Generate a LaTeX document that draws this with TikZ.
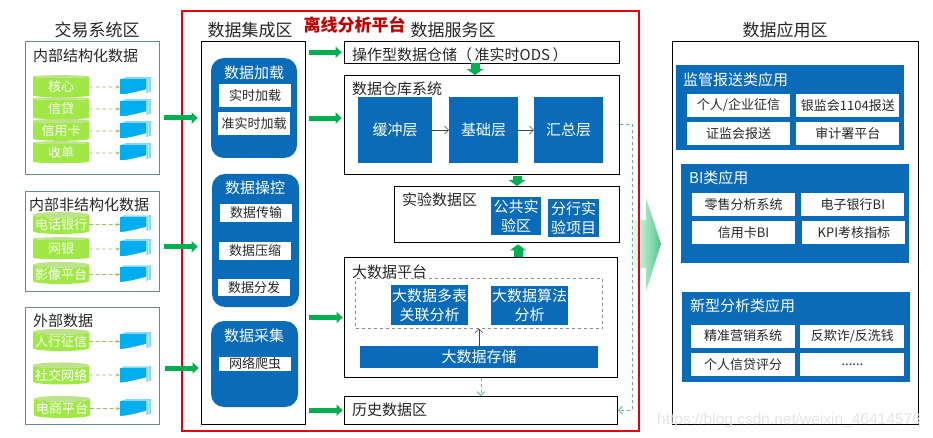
\documentclass[tikz,border=0pt]{standalone}
\usepackage{fontspec}
\setmainfont{Noto Sans CJK SC}
\newfontfamily\markfont{Liberation Sans}
\usetikzlibrary{shapes.geometric, arrows.meta, positioning}
\definecolor{bankblue}{RGB}{10,108,185}
\definecolor{docblue}{RGB}{0,174,240}
\definecolor{docpale}{RGB}{130,216,246}
\definecolor{cylgreen}{RGB}{160,232,70}
\definecolor{cyltop}{RGB}{190,226,140}
\definecolor{dkgreen}{RGB}{0,176,80}
\definecolor{dashgreen}{RGB}{155,190,95}
\definecolor{tealdash}{RGB}{95,185,150}
\definecolor{framered}{RGB}{228,0,18}
\definecolor{boxgrey}{RGB}{105,140,145}

\begin{document}
\begin{tikzpicture}[
    x=1pt, y=-1pt,
    head/.style={font=\fontsize{17}{19}\selectfont, text=black!85, inner sep=0pt},
    sect/.style={rectangle, draw=boxgrey, thick, inner sep=0pt, minimum width=134},
    frame/.style={rectangle, draw=black, thick, inner sep=0pt},
    txt/.style={font=\fontsize{15}{17}\selectfont, text=black!85, inner sep=0pt},
    cyl/.style={cylinder, shape border rotate=90, aspect=0.11, cylinder uses custom fill,
        cylinder body fill=cylgreen, cylinder end fill=cyltop, inner sep=0pt,
        minimum width=56, minimum height=22, text=white,
        font=\fontsize{13}{15}\selectfont},
    doc/.style={rectangle, minimum width=26, minimum height=15, inner sep=0pt,
        preaction={fill=docpale, transform canvas={xshift=4.5pt, yshift=2pt}},
        preaction={fill=docpale!55, transform canvas={xshift=3pt, yshift=1.5pt}},
        preaction={fill=docpale, transform canvas={xshift=1.5pt, yshift=1pt}},
        fill=docblue,
        path picture={\fill[white] (path picture bounding box.south west)
            .. controls +(10,0) and +(16,-5) .. +(26,-5) -- +(26,1) -- +(0,1) -- cycle;}},
    pnl/.style={rectangle, rounded corners=13pt, fill=bankblue, inner sep=0pt, minimum width=86},
    ptitle/.style={font=\fontsize{15}{17}\selectfont, text=white, inner sep=0pt},
    sbox/.style={rectangle, fill=white, minimum width=72, inner sep=0pt, text=black!85,
        font=\fontsize{13}{15}\selectfont},
    bluebox/.style={rectangle, fill=bankblue, inner sep=0pt, text=white, align=center,
        font=\fontsize{15}{19}\selectfont},
    panel/.style={rectangle, fill=bankblue, minimum width=228, inner sep=0pt},
    wbox/.style={rectangle, fill=white, minimum width=103, minimum height=23, inner sep=0pt,
        text=black!85, font=\fontsize{13}{15}\selectfont},
    darr/.style={-{Stealth[length=4pt]}, dashed, dash pattern=on 4pt off 2.5pt, thick, dashgreen},
    garr/.style={-{Triangle[length=6pt, width=11pt]}, line width=5pt, dkgreen},
    gdown/.style={-{Triangle[length=6pt, width=16pt]}, line width=9pt, dkgreen},
    thin arr/.style={-{Straight Barb[length=4pt]}, black!75},
    gdash/.style={-{Straight Barb[length=4pt]}, dashed, tealdash, thick}
]
\useasboundingbox (0,0) rectangle (933,438);
\fill[white] (0,0) rectangle (933,438);

% source systems
\node[head] (jiaoyi) at (97,30) {交易系统区};
\node[sect, minimum height=133] (jiegou) at (92.5,107.5) {};
\node[txt, anchor=west] (jiegou title) at (33,56) {内部结构化数据};
\node[cyl] (hexin) at (61,87) {核心};
\node[cyl] (xindai) at (61,109) {信贷};
\node[cyl] (xinyongka) at (61,131) {信用卡};
\node[cyl] (shoudan) at (61,153) {收单};
\node[doc, right=31pt of hexin] (hexin doc) {};
\node[doc, right=31pt of xindai] (xindai doc) {};
\node[doc, right=31pt of xinyongka] (xinyongka doc) {};
\node[doc, right=31pt of shoudan] (shoudan doc) {};
\draw[darr] (hexin) -- (hexin doc);
\draw[darr] (xindai) -- (xindai doc);
\draw[darr] (xinyongka) -- (xinyongka doc);
\draw[darr] (shoudan) -- (shoudan doc);

\node[sect, minimum height=100] (feijiegou) at (92.5,241) {};
\node[txt, anchor=west] (feijiegou title) at (29,205) {内部非结构化数据};
\node[cyl] (dianhua) at (61,224.5) {电话银行};
\node[cyl] (wangyin) at (61,249) {网银};
\node[cyl] (yingxiang) at (61,274.5) {影像平台};
\node[doc, right=31pt of dianhua] (dianhua doc) {};
\node[doc, right=31pt of wangyin] (wangyin doc) {};
\node[doc, right=31pt of yingxiang] (yingxiang doc) {};
\draw[darr] (dianhua) -- (dianhua doc);
\draw[darr] (wangyin) -- (wangyin doc);
\draw[darr] (yingxiang) -- (yingxiang doc);

\node[sect, minimum height=117] (waibu) at (92.5,365.5) {};
\node[txt, anchor=west] (waibu title) at (33,321) {外部数据};
\node[cyl] (renhang) at (61,341.5) {人行征信};
\node[cyl] (shejiao) at (61,375) {社交网络};
\node[cyl] (dianshang) at (62,408.5) {电商平台};
\node[doc, right=31pt of renhang] (renhang doc) {};
\node[doc, right=31pt of shejiao] (shejiao doc) {};
\node[doc, right=30pt of dianshang] (dianshang doc) {};
\draw[darr] (renhang) -- (renhang doc);
\draw[darr] (shejiao) -- (shejiao doc);
\draw[darr] (dianshang) -- (dianshang doc);

% big arrow sits behind the red frame
\shade[left color=white, right color=dkgreen!70, draw=none] (630,220) -- (646,220) -- (646,198)
    -- (661,244) -- (646,291) -- (646,268) -- (630,268) -- cycle;

% offline platform
\node[rectangle, draw=framered, line width=1.6pt, minimum width=457, minimum height=420, inner sep=0pt] (pingtai) at (410.5,221) {};
\node[font=\fontsize{17}{19}\selectfont\bfseries, text=red!75!black, inner sep=0pt] (pingtai title) at (354.5,25) {离线分析平台};
\node[head] (jicheng title) at (250,30) {数据集成区};
\node[head] (fuwu title) at (453,30) {数据服务区};

\node[frame, minimum width=104, minimum height=382.5] (jicheng) at (253.5,232.75) {};
\node[pnl, minimum height=100] (jiazai) at (254,108) {};
\node[ptitle] (jiazai title) at (254,73) {数据加载};
\node[sbox, minimum height=23] (shishi) at (255,95.5) {实时加载};
\node[sbox, minimum height=23] (zhunshi) at (254,123.5) {准实时加载};
\node[pnl, minimum width=87, minimum height=133] (caokong) at (255.5,240.5) {};
\node[ptitle] (caokong title) at (255,188) {数据操控};
\node[sbox, minimum height=18] (chuanshu) at (256,213) {数据传输};
\node[sbox, minimum height=18] (yasuo) at (255,251) {数据压缩};
\node[sbox, minimum height=17] (fenfa) at (254,287.5) {数据分发};
\node[pnl, minimum width=87, minimum height=86] (caiji) at (254.5,364) {};
\node[ptitle] (caiji title) at (254,336) {数据采集};
\node[sbox, minimum height=14] (pachong) at (255,364) {网络爬虫};

\node[frame, minimum width=275, minimum height=21.5] (ods) at (482,52.25) {};
\node[txt, anchor=west] (ods title) at (352,54.5) {操作型数据仓储（\,准实时ODS\,）};

\node[frame, minimum width=275, minimum height=98.5] (cangku) at (482,124.75) {};
\node[txt, anchor=west] (cangku title) at (352,89) {数据仓库系统};
\node[bluebox, minimum width=74, minimum height=66] (huanchong) at (395,130) {缓冲层};
\node[bluebox, minimum width=69, minimum height=66] (jichu) at (483.5,130) {基础层};
\node[bluebox, minimum width=69, minimum height=66] (huizong) at (568.5,130) {汇总层};
\draw[thin arr] (huanchong) -- (jichu);
\draw[thin arr] (jichu) -- (huizong);

\node[frame, minimum width=225, minimum height=55.5] (shiyan) at (507,214.25) {};
\node[txt, anchor=west] (shiyan title) at (402,200) {实验数据区};
\node[bluebox, minimum width=50, minimum height=38] (gonggong) at (516,216) {公共实\\验区};
\node[bluebox, minimum width=51, minimum height=38] (fenhang) at (573.5,218) {分行实\\验项目};

\node[frame, minimum width=273, minimum height=120] (dashuju) at (481,317.5) {};
\node[txt, anchor=west] (dashuju title) at (352,272) {大数据平台};
\node[rectangle, draw=black!45, dashed, minimum width=247, minimum height=50, inner sep=0pt] (fenxi) at (479,303.5) {};
\node[bluebox, minimum width=77, minimum height=40] (duobiao) at (429.5,305) {大数据多表\\关联分析};
\node[bluebox, minimum width=77, minimum height=39] (suanfa) at (529.5,305.5) {大数据算法\\分析};
\node[bluebox, minimum width=238, minimum height=22] (cunchu) at (479,357) {大数据存储};
\draw[thin arr] (cunchu) -- (fenxi);

\node[frame, minimum width=273, minimum height=27.5] (lishi) at (481,410.25) {};
\node[txt, anchor=west] (lishi title) at (352,410) {历史数据区};

% data applications
\node[head] (yingyong title) at (785,30) {数据应用区};
\node[frame, minimum width=246, minimum height=382.5] (yingyong) at (795.5,232.75) {};

\node[panel, minimum height=85] (jianguan) at (790,107.5) {};
\node[ptitle, anchor=west] (jianguan title) at (683,80) {监管报送类应用};
\node[wbox] (zhengxin) at (738.5,105.5) {个人/企业征信};
\node[wbox, right=6pt of zhengxin] (yinjianhui) {银监会1104报送};
\node[wbox, below=5pt of zhengxin] (zhengjianhui) {证监会报送};
\node[wbox, below=5pt of yinjianhui] (shenji) {审计署平台};

\node[panel, minimum height=99] (bi) at (795,213.5) {};
\node[ptitle, anchor=west] (bi title) at (689,178) {BI类应用};
\node[wbox] (lingshou) at (743.5,204.5) {零售分析系统};
\node[wbox, right=6pt of lingshou] (dianzi) {电子银行BI};
\node[wbox, below=5pt of lingshou] (kabi) {信用卡BI};
\node[wbox, right=7pt of kabi] (kpi) {KPI考核指标};

\node[panel, minimum height=90] (xinxing) at (796,337) {};
\node[ptitle, anchor=west] (xinxing title) at (690,306) {新型分析类应用};
\node[wbox, minimum width=104] (jingzhun) at (743,336) {精准营销系统};
\node[wbox, minimum width=104, right=5pt of jingzhun] (fanqizha) {反欺诈/反洗钱};
\node[wbox, minimum width=104, below=5pt of jingzhun] (xindaipf) {个人信贷评分};
\node[wbox, minimum width=104, below=5pt of fanqizha] (more) {......};

% green block arrows
\draw[garr, shorten <=4.5pt, shorten >=3.5pt] ([yshift=-10.5pt]jiegou.east) -- ([yshift=-10.5pt]jiegou.east -| jicheng.west);
\draw[garr, shorten <=4.5pt, shorten >=3.5pt] ([yshift=-5.7pt]feijiegou.east) -- ([yshift=-5.7pt]feijiegou.east -| jicheng.west);
\draw[garr, shorten <=5.5pt, shorten >=2.5pt] ([yshift=-2.5pt]waibu.east) -- ([yshift=-2.5pt]waibu.east -| jicheng.west);
\draw[garr, shorten <=3.5pt, shorten >=2.5pt] (ods.west -| jicheng.east) -- (ods.west);
\draw[garr, shorten <=3pt, shorten >=2.5pt] ([yshift=6.7pt]cangku.west -| jicheng.east) -- ([yshift=6.7pt]cangku.west);
\draw[garr, shorten <=3.5pt, shorten >=1.5pt] (dashuju.west -| jicheng.east) -- (dashuju.west);
\draw[garr, shorten <=3.5pt, shorten >=1.5pt] (lishi.west -| jicheng.east) -- (lishi.west);
\draw[gdown] ([xshift=-7pt]ods.south) -- ([xshift=-7pt]ods.south |- cangku.north);
\draw[gdown, shorten <=2pt] ([xshift=10pt]shiyan.north |- cangku.south) -- ([xshift=10pt]shiyan.north);
\draw[gdown, shorten >=2pt] ([xshift=2pt]gonggong.south |- dashuju.north) -- ([xshift=2pt]gonggong.south |- shiyan.south);

% dashed links to the history area
\draw[gdash] (dashuju.south) -- (lishi.north);
\draw[gdash] (cangku.east) -- ++(12.5,0) |- (lishi.east);

\node[font=\markfont\fontsize{15.5}{17}\selectfont, text=black!10, inner sep=0pt] (watermark) at (789,420) {https://blog.csdn.net/weixin\_46414576};
\end{tikzpicture}
\end{document}
